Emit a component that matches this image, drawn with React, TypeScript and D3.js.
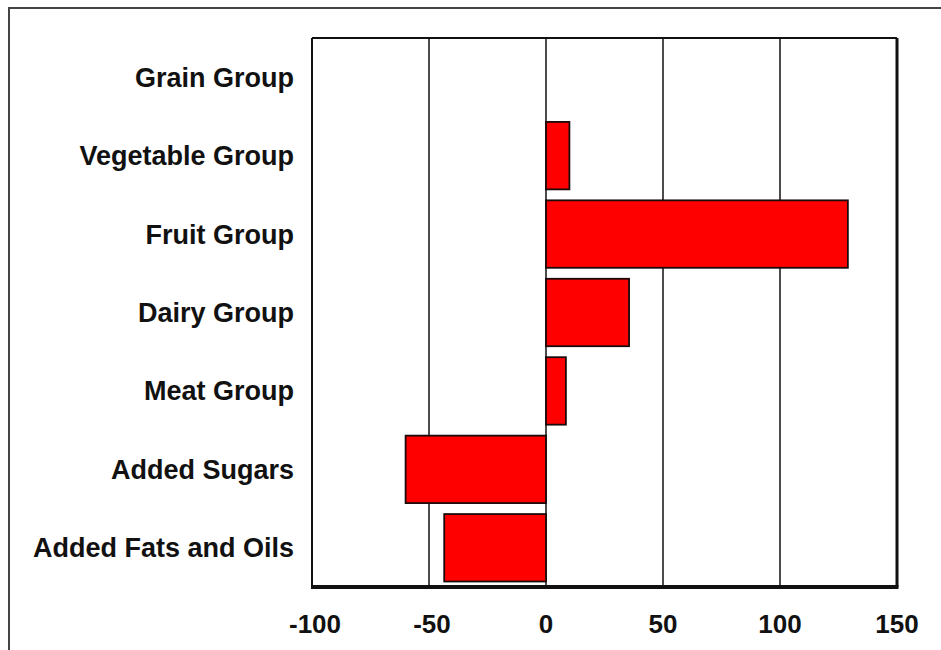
import React, { useRef, useEffect } from "react";
import * as d3 from "d3";

const CATEGORIES = [
  "Grain Group",
  "Vegetable Group",
  "Fruit Group",
  "Dairy Group",
  "Meat Group",
  "Added Sugars",
  "Added Fats and Oils",
];
const VALUES = [0, 10, 129, 35.5, 8.5, -60, -43.5];
const X_TICKS = [-100, -50, 0, 50, 100, 150];

const W = 941, H = 650;
const FONT = "'Liberation Sans', Arial, sans-serif";

export default function App() {
  const svgRef = useRef<SVGSVGElement>(null);

  useEffect(() => {
    const svg = d3.select(svgRef.current);
    svg.selectAll("*").remove();

    const left = 312, right = 897, top = 38, bottom = 587;

    const x = d3.scaleLinear().domain([-100, 150]).range([left, right]);
    const y = d3.scaleBand<string>()
      .domain(CATEGORIES)
      .range([top, bottom])
      .paddingInner(0.14)
      .paddingOuter(0.07);

    // outer frame
    svg.append("rect")
      .attr("x", 9).attr("y", 8)
      .attr("width", W).attr("height", H)
      .attr("fill", "#fff")
      .attr("stroke", "#444")
      .attr("stroke-width", 2);

    // grid lines
    svg.append("g")
      .selectAll("line")
      .data(X_TICKS.slice(1, -1))
      .join("line")
      .attr("x1", d => x(d)).attr("x2", d => x(d))
      .attr("y1", top).attr("y2", bottom)
      .attr("stroke", "#111")
      .attr("stroke-width", 1.5);

    // bars
    svg.append("g")
      .selectAll("rect")
      .data(CATEGORIES.map((c, i) => ({ c, v: VALUES[i] })).filter(d => d.v !== 0))
      .join("rect")
      .attr("x", d => x(Math.min(0, d.v)))
      .attr("y", d => y(d.c)!)
      .attr("width", d => Math.abs(x(d.v) - x(0)))
      .attr("height", y.bandwidth())
      .attr("fill", "#ff0000")
      .attr("stroke", "#1a0a0a")
      .attr("stroke-width", 1.8);

    // plot border
    const border = svg.append("g").attr("stroke", "#111");
    border.append("line").attr("x1", left).attr("x2", right).attr("y1", top).attr("y2", top).attr("stroke-width", 2);
    border.append("line").attr("x1", left).attr("x2", left).attr("y1", top).attr("y2", bottom).attr("stroke-width", 2);
    border.append("line").attr("x1", right).attr("x2", right).attr("y1", top).attr("y2", bottom).attr("stroke-width", 3);
    border.append("line").attr("x1", left - 1).attr("x2", right + 1.5).attr("y1", bottom).attr("y2", bottom).attr("stroke-width", 4);

    // x tick labels
    svg.append("g")
      .selectAll("text")
      .data(X_TICKS)
      .join("text")
      .attr("x", d => x(d) + (d < 0 ? 3 : 0))
      .attr("y", 633)
      .attr("text-anchor", "middle")
      .style("font-family", FONT)
      .style("font-weight", 700)
      .style("font-size", "26px")
      .style("fill", "#111")
      .text(d => d);

    // category labels
    svg.append("g")
      .selectAll("text")
      .data(CATEGORIES)
      .join("text")
      .attr("x", 294)
      .attr("y", d => y(d)! + y.bandwidth() / 2)
      .attr("dy", "0.35em")
      .attr("text-anchor", "end")
      .style("font-family", FONT)
      .style("font-weight", 700)
      .style("font-size", "27px")
      .style("fill", "#111")
      .text(d => d);
  }, []);

  return (
    <svg
      ref={svgRef}
      width={W}
      height={H}
      style={{ position: "absolute", left: 0, top: 0, background: "#fff", display: "block" }}
    />
  );
}
